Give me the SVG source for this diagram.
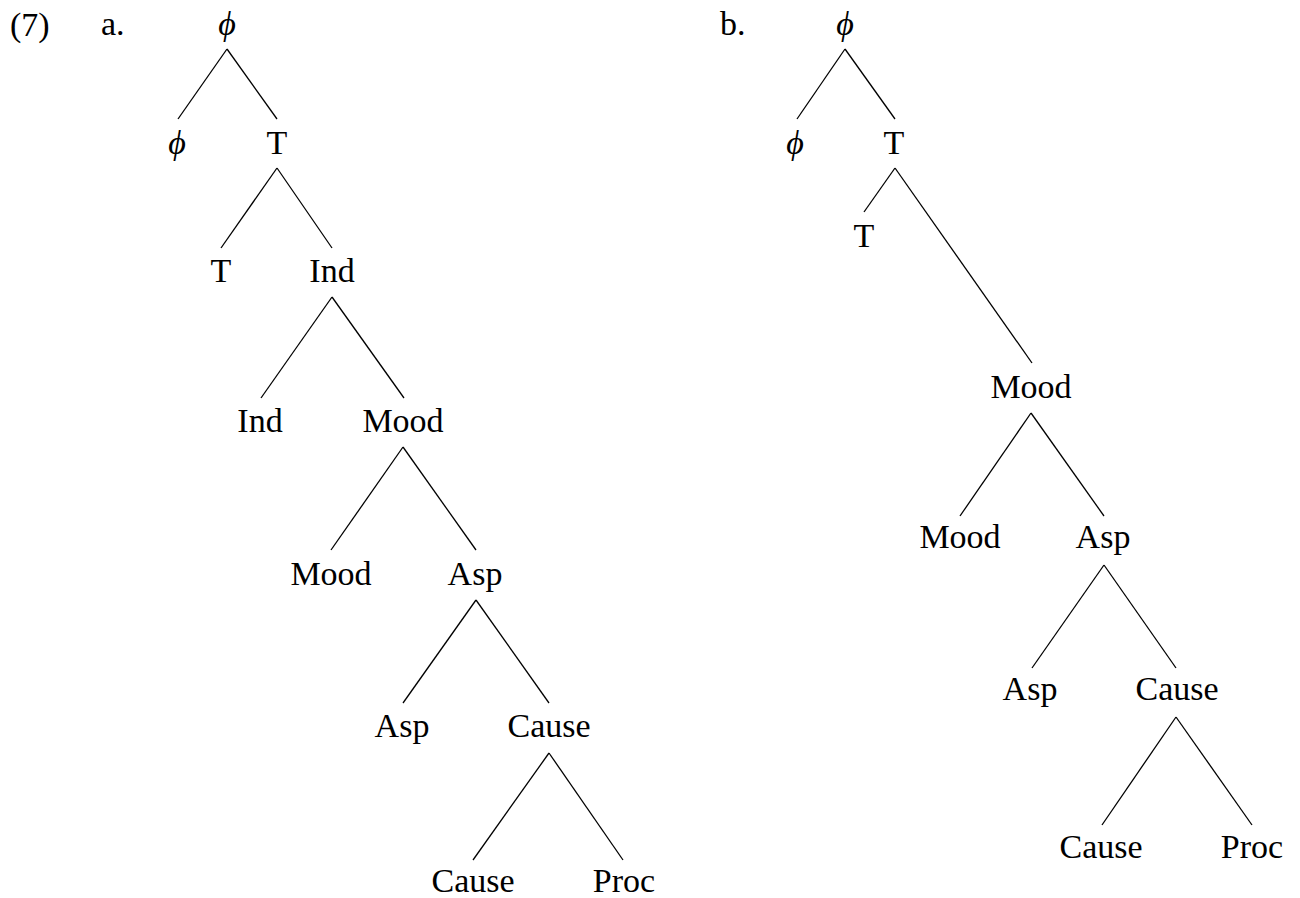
<svg xmlns="http://www.w3.org/2000/svg" width="1300" height="898" viewBox="0 0 1300 898">
<style>
text{font-family:"Liberation Serif","DejaVu Serif",serif;font-size:34px;fill:#000;text-anchor:middle}
.phi{font-style:italic}
.lab{text-anchor:start}
#edges line{stroke:#000;stroke-width:1.3}
</style>
<rect width="1300" height="898" fill="#fff"/>
<g id="labels">
<text class="lab" x="10" y="36">(7)</text>
<text class="lab" x="101" y="35">a.</text>
<text class="lab" x="720" y="35">b.</text>
</g>
<g id="edges">
<line x1="227" y1="49" x2="178" y2="119"/>
<line x1="227" y1="49" x2="277" y2="119"/>
<line x1="277" y1="168" x2="221" y2="248"/>
<line x1="277" y1="168" x2="332" y2="248"/>
<line x1="332" y1="297" x2="261" y2="398"/>
<line x1="332" y1="297" x2="404" y2="398"/>
<line x1="403" y1="447" x2="331" y2="550"/>
<line x1="403" y1="447" x2="476" y2="550"/>
<line x1="476" y1="600" x2="403" y2="703"/>
<line x1="476" y1="600" x2="549" y2="703"/>
<line x1="549" y1="753" x2="473" y2="860"/>
<line x1="549" y1="753" x2="623" y2="860"/>
<line x1="845" y1="49" x2="797" y2="119"/>
<line x1="845" y1="49" x2="895" y2="119"/>
<line x1="895" y1="168" x2="864" y2="212"/>
<line x1="895" y1="168" x2="1032" y2="363"/>
<line x1="1031" y1="413" x2="960" y2="516"/>
<line x1="1031" y1="413" x2="1104" y2="516"/>
<line x1="1104" y1="565" x2="1032" y2="668"/>
<line x1="1104" y1="565" x2="1176" y2="668"/>
<line x1="1176" y1="717" x2="1102" y2="825"/>
<line x1="1176" y1="717" x2="1252" y2="825"/>
</g>
<g id="a-root"><text class="phi" x="227" y="35">ϕ</text></g>
<g id="a-phi"><text class="phi" x="177" y="154">ϕ</text></g>
<g id="a-T"><text x="277" y="154">T</text></g>
<g id="a-T2"><text x="221" y="282">T</text></g>
<g id="a-Ind"><text x="332" y="282">Ind</text></g>
<g id="a-Ind2"><text x="260" y="432">Ind</text></g>
<g id="a-Mood"><text x="403" y="432">Mood</text></g>
<g id="a-Mood2"><text x="331" y="585">Mood</text></g>
<g id="a-Asp"><text x="475" y="585">Asp</text></g>
<g id="a-Asp2"><text x="402" y="737">Asp</text></g>
<g id="a-Cause"><text x="549" y="737">Cause</text></g>
<g id="a-Cause2"><text x="473" y="892">Cause</text></g>
<g id="a-Proc"><text x="624" y="892">Proc</text></g>
<g id="b-root"><text class="phi" x="845" y="35">ϕ</text></g>
<g id="b-phi"><text class="phi" x="795" y="154">ϕ</text></g>
<g id="b-T"><text x="894" y="154">T</text></g>
<g id="b-T2"><text x="864" y="247">T</text></g>
<g id="b-Mood"><text x="1031" y="398">Mood</text></g>
<g id="b-Mood2"><text x="960" y="548">Mood</text></g>
<g id="b-Asp"><text x="1103" y="548">Asp</text></g>
<g id="b-Asp2"><text x="1030" y="700">Asp</text></g>
<g id="b-Cause"><text x="1177" y="700">Cause</text></g>
<g id="b-Cause2"><text x="1101" y="858">Cause</text></g>
<g id="b-Proc"><text x="1252" y="858">Proc</text></g>
</svg>
